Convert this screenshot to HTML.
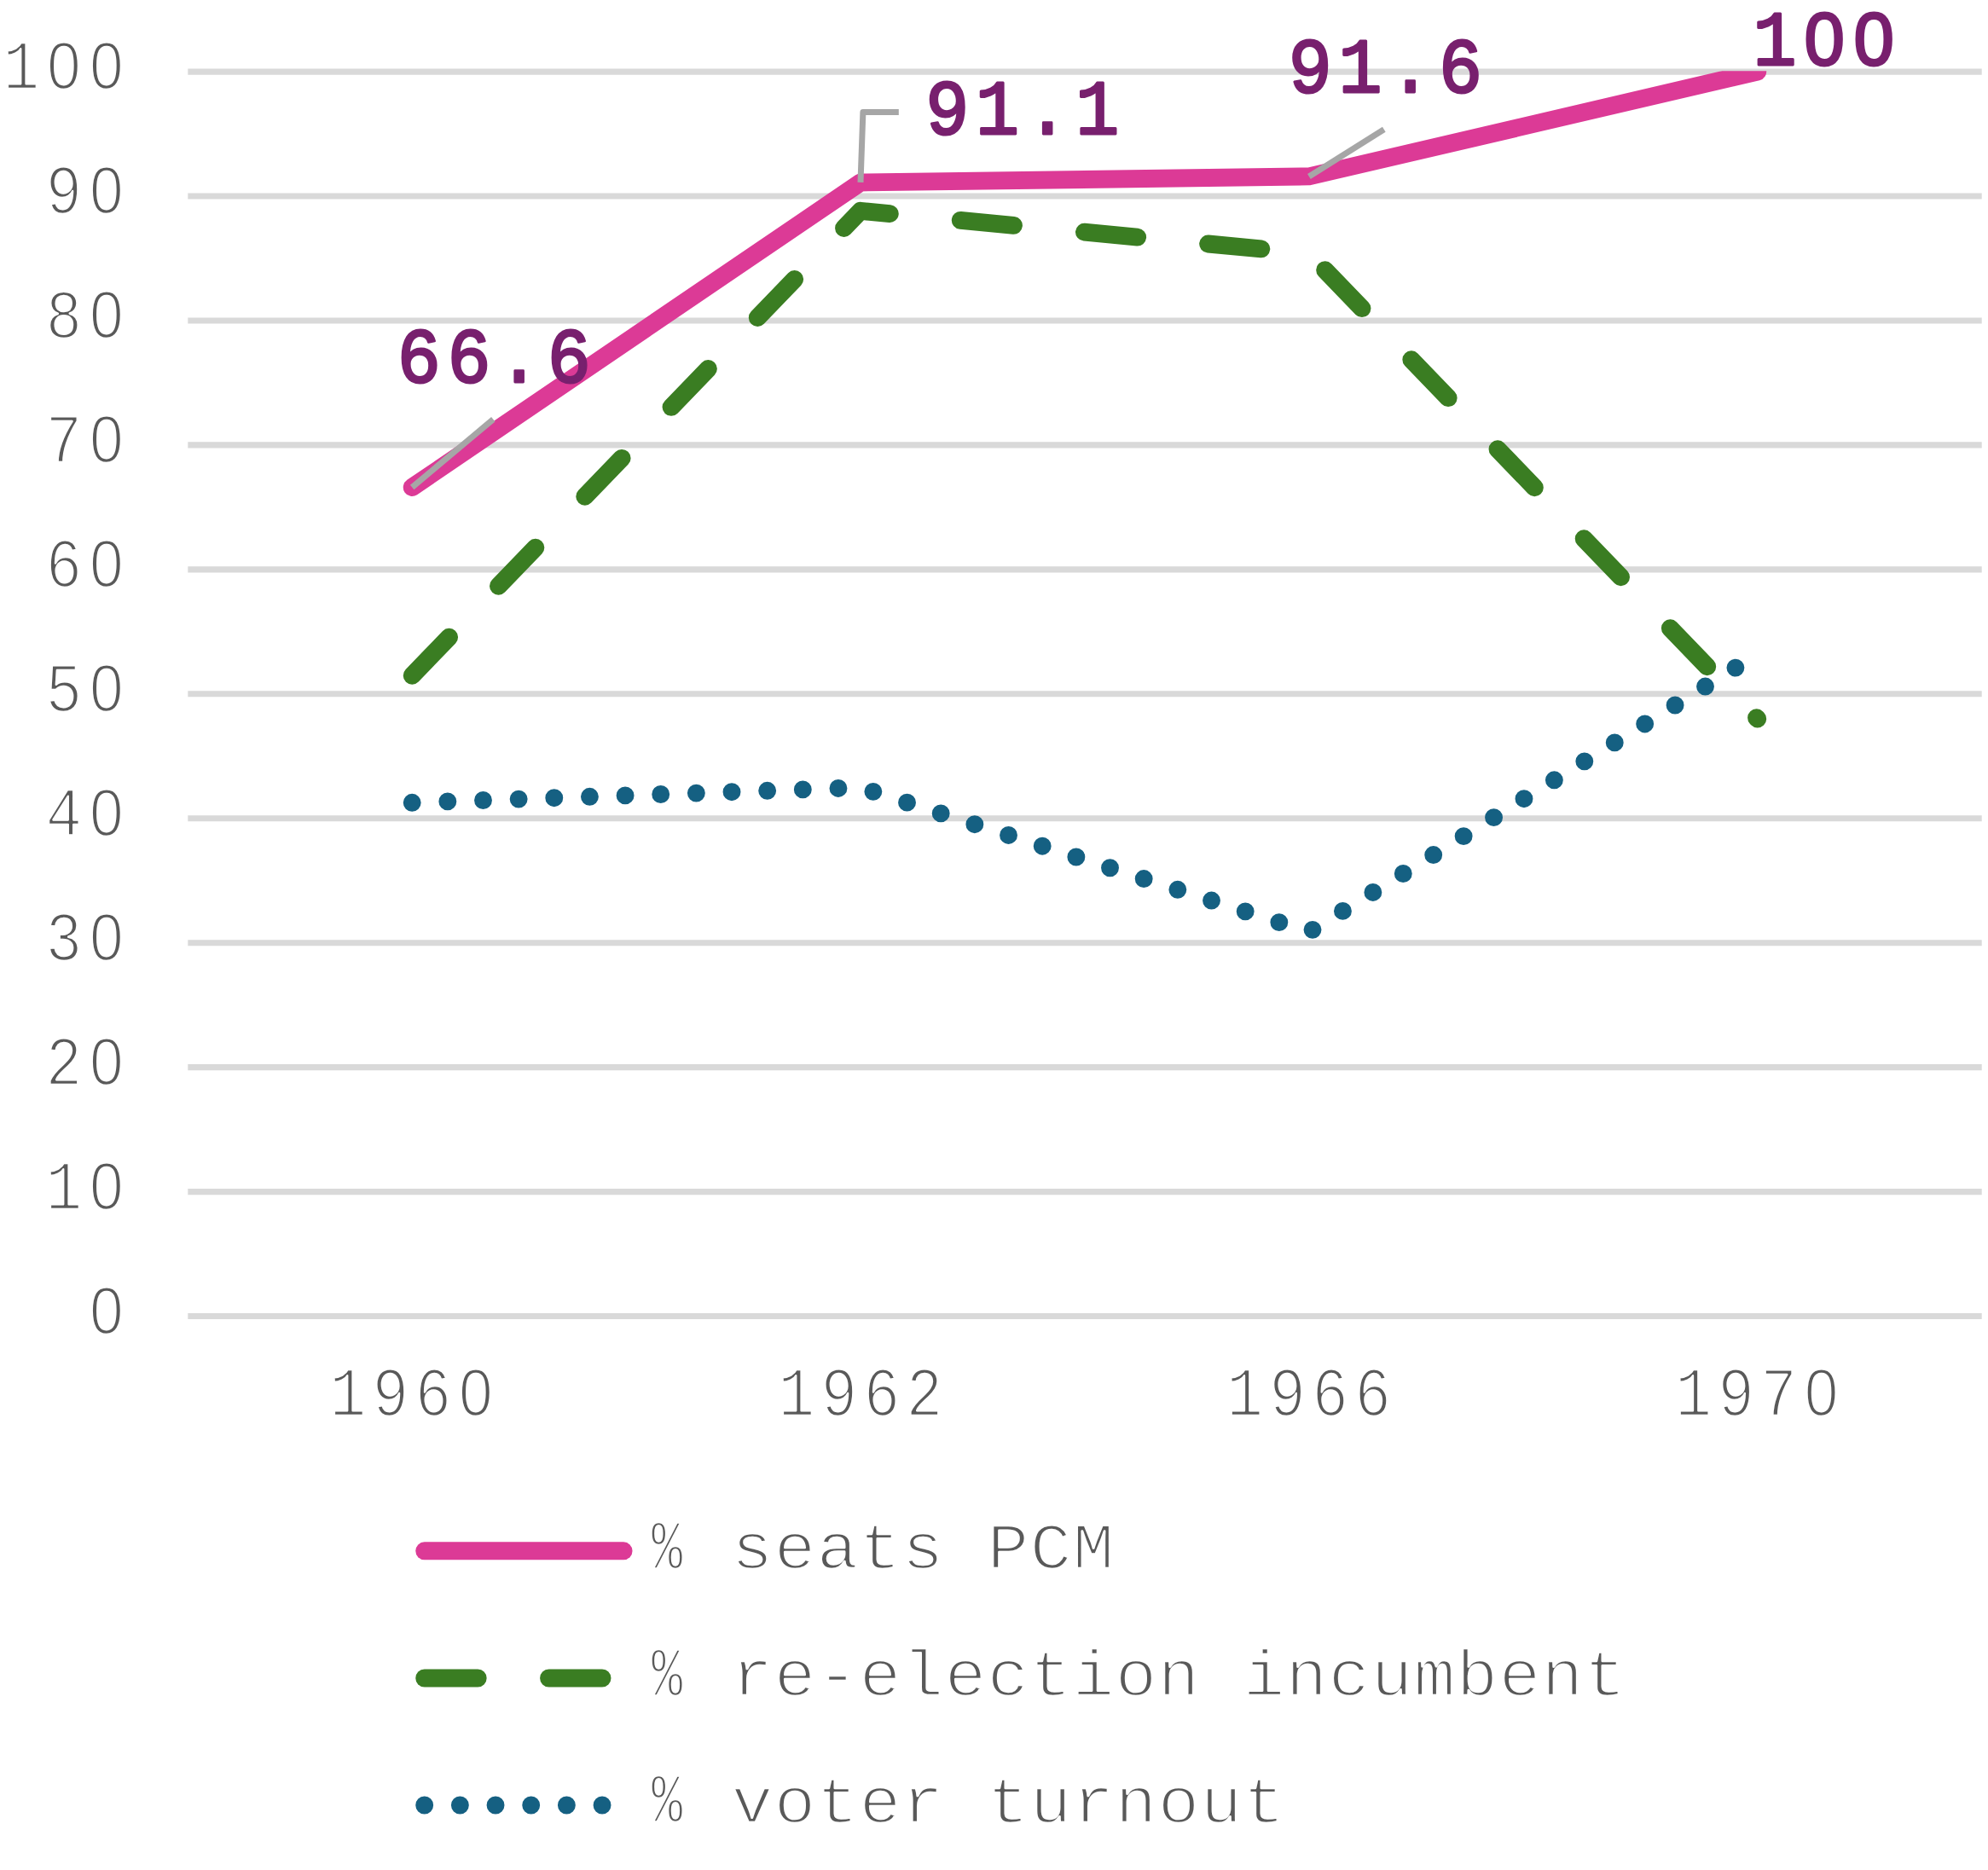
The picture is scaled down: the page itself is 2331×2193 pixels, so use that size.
<!DOCTYPE html>
<html lang="en">
<head>
<meta charset="utf-8">
<title>Chart</title>
<style>
  html, body { margin: 0; padding: 0; background: #ffffff; }
  body { width: 2331px; height: 2193px; overflow: hidden; }
  svg { display: block; }
  text { font-family: "Liberation Mono", "DejaVu Sans Mono", monospace; }
  .ax text { font-size: 82.30px; letter-spacing: 8.348px; fill: #595959; stroke: #ffffff; stroke-width: 2.60px; stroke-linejoin: round; }
  .lg text { font-size: 76.20px; letter-spacing: 1.001px; fill: #595959; stroke: #ffffff; stroke-width: 2.60px; stroke-linejoin: round; }
  .dl text { font-size: 91.30px; letter-spacing: 8.329px; fill: #78206E; stroke: #78206E; stroke-width: 3.00px; stroke-linejoin: round; stroke-linecap: round; }
  .grid line { stroke: #D9D9D9; stroke-width: 7.1; }
  .lead { stroke: #A6A6A6; stroke-width: 7; fill: none; stroke-linejoin: round; }
  .patch { fill: #ffffff; }
</style>
</head>
<body>
<svg width="2331" height="2193" viewBox="0 0 2331 2193">
  <rect x="0" y="0" width="2331" height="2193" fill="#ffffff"/>
  <defs>
    <clipPath id="plot"><rect x="220" y="83.3" width="2104" height="1465"/></clipPath>
  </defs>

  <!-- gridlines -->
  <g class="grid">
    <line x1="220.3" x2="2323.7" y1="84.1" y2="84.1"/>
    <line x1="220.3" x2="2323.7" y1="230.0" y2="230.0"/>
    <line x1="220.3" x2="2323.7" y1="376.0" y2="376.0"/>
    <line x1="220.3" x2="2323.7" y1="521.9" y2="521.9"/>
    <line x1="220.3" x2="2323.7" y1="667.9" y2="667.9"/>
    <line x1="220.3" x2="2323.7" y1="813.8" y2="813.8"/>
    <line x1="220.3" x2="2323.7" y1="959.7" y2="959.7"/>
    <line x1="220.3" x2="2323.7" y1="1105.7" y2="1105.7"/>
    <line x1="220.3" x2="2323.7" y1="1251.6" y2="1251.6"/>
    <line x1="220.3" x2="2323.7" y1="1397.6" y2="1397.6"/>
    <line x1="220.3" x2="2323.7" y1="1543.5" y2="1543.5"/>
  </g>

  <!-- value axis labels -->
  <g class="ax">
    <text transform="translate(3.61 104.05) scale(0.866 1)">100</text>
    <text transform="translate(53.61 250.08) scale(0.866 1)">90</text>
    <text transform="translate(53.61 396.11) scale(0.866 1)">80</text>
    <text transform="translate(53.61 542.14) scale(0.866 1)">70</text>
    <text transform="translate(53.61 688.17) scale(0.866 1)">60</text>
    <text transform="translate(53.61 834.20) scale(0.866 1)">50</text>
    <text transform="translate(53.61 980.23) scale(0.866 1)">40</text>
    <text transform="translate(53.61 1126.26) scale(0.866 1)">30</text>
    <text transform="translate(53.61 1272.29) scale(0.866 1)">20</text>
    <text transform="translate(53.61 1418.32) scale(0.866 1)">10</text>
    <text transform="translate(103.61 1564.35) scale(0.866 1)">0</text>
  </g>

  <!-- category axis labels -->
  <g class="ax">
    <text transform="translate(386.61 1659.70) scale(0.866 1)">1960</text>
    <text transform="translate(912.46 1659.70) scale(0.866 1)">1962</text>
    <text transform="translate(1438.31 1659.70) scale(0.866 1)">1966</text>
    <text transform="translate(1964.16 1659.70) scale(0.866 1)">1970</text>
  </g>

  <!-- series -->
  <g clip-path="url(#plot)" fill="none" stroke-linecap="round" stroke-linejoin="round" stroke-width="20.9">
    <polyline stroke="#156082" stroke-dasharray="0 41.67" points="483.2,941.3 1009.05,923.6 1534.9,1092.9 2060.75,767.1"/>
    <polyline stroke="#3A7D22" stroke-dasharray="62.5 83.33" points="483.2,792.2 1009.05,247.3 1534.9,297.2 2060.75,843"/>
    <polyline stroke="#DC3A96" points="483.2,571.5 1009.05,214.0 1534.9,206.9 2060.75,84.1"/>
  </g>

  <!-- leader lines -->
  <g class="lead">
    <polyline points="483.2,571.5 578.3,491.7"/>
    <polyline points="1009,213.9 1011.9,131.5 1053.8,131.5"/>
    <polyline points="1534.9,207 1622.8,151.7"/>
  </g>

  <!-- data labels -->
  <g class="dl">
    <text transform="translate(465.77 448.10) scale(0.930 1)">66.6</text>
    <text transform="translate(1085.27 156.90) scale(0.930 1)">91.1</text>
    <text transform="translate(1510.87 107.90) scale(0.930 1)">91.6</text>
    <text transform="translate(2055.55 75.90) scale(0.930 1)" style="letter-spacing: 7.738px">100</text>
  </g>

  <!-- legend -->
  <g fill="none" stroke-linecap="round" stroke-width="20.9">
    <line x1="497.7" x2="731.1" y1="1818.8" y2="1818.8" stroke="#DC3A96"/>
    <line x1="497.7" x2="731.1" y1="1968" y2="1968" stroke="#3A7D22" stroke-dasharray="62.5 83.33"/>
    <line x1="497.7" x2="731.1" y1="2117" y2="2117" stroke="#156082" stroke-dasharray="0 41.67"/>
  </g>
  <g class="lg">
    <text class="pc" style="font-size: 82.20px; letter-spacing: 0" transform="translate(763.63 1839.90) scale(0.745 1)">%</text>
    <text transform="translate(857.54 1839.30) scale(1.070 1)">seats PCM</text>
    <text class="pc" style="font-size: 82.20px; letter-spacing: 0" transform="translate(763.63 1988.60) scale(0.745 1)">%</text>
    <text transform="translate(857.54 1988.00) scale(1.070 1)">re-election incumbent</text>
    <text class="pc" style="font-size: 82.20px; letter-spacing: 0" transform="translate(763.63 2137.20) scale(0.745 1)">%</text>
    <text transform="translate(857.54 2136.60) scale(1.070 1)">voter turnout</text>
  </g>

  <!-- hide the dot inside the zero glyphs (reference font has a plain zero) -->
  <g class="patch">
    <ellipse cx="75.0" cy="76.9" rx="7.5" ry="10.3"/>
    <ellipse cx="125.0" cy="76.9" rx="7.5" ry="10.3"/>
    <ellipse cx="125.0" cy="223.0" rx="7.5" ry="10.3"/>
    <ellipse cx="125.0" cy="369.0" rx="7.5" ry="10.3"/>
    <ellipse cx="125.0" cy="515.0" rx="7.5" ry="10.3"/>
    <ellipse cx="125.0" cy="661.0" rx="7.5" ry="10.3"/>
    <ellipse cx="125.0" cy="807.1" rx="7.5" ry="10.3"/>
    <ellipse cx="125.0" cy="953.1" rx="7.5" ry="10.3"/>
    <ellipse cx="125.0" cy="1099.1" rx="7.5" ry="10.3"/>
    <ellipse cx="125.0" cy="1245.2" rx="7.5" ry="10.3"/>
    <ellipse cx="125.0" cy="1391.2" rx="7.5" ry="10.3"/>
    <ellipse cx="125.0" cy="1537.2" rx="7.5" ry="10.3"/>
    <ellipse cx="558.0" cy="1632.6" rx="7.5" ry="10.3"/>
    <ellipse cx="2135.6" cy="1632.6" rx="7.5" ry="10.3"/>
    <ellipse cx="2139.2" cy="45.8" rx="9.9" ry="12.4"/>
    <ellipse cx="2197.3" cy="45.8" rx="9.9" ry="12.4"/>
  </g>
</svg>
</body>
</html>
